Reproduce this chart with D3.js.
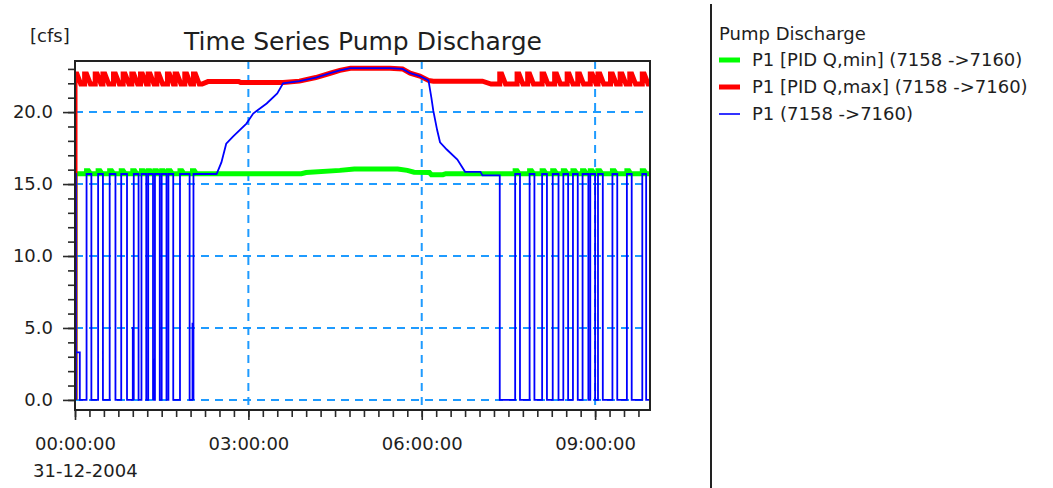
<!DOCTYPE html>
<html>
<head>
<meta charset="utf-8">
<script src="https://cdn.jsdelivr.net/npm/d3@7"></script>
<style>
  body { margin: 0; background: #fff; }
  text { font-family: "DejaVu Sans", sans-serif; fill: #1e1e1e; }
</style>
</head>
<body>
<div id="chart"></div>
<script>
// values
var day = "31-12-2004"
var xStart = "00:00", xEnd = "09:57"
var xTicks = ["00:00", "03:00", "06:00", "09:00"]
var yTicks = [0, 5, 10, 15, 20]
var seriesNames = ["P1 [PID Q,min] (7158 ->7160)", "P1 [PID Q,max] (7158 ->7160)", "P1 (7158 ->7160)"]

// P1 [PID Q,min]
var qMinBase = 15.72, qMinPeak = 15.92
var qMinStart = [["00:00",0],["00:00",15.72]]
var qMinTeethAM = ["00:12","00:24","00:36","00:48","01:00","01:09","01:16","01:23","01:30","01:37","01:49","02:02"]
var qMinProfile = [["02:10",15.72],["03:55",15.72],["04:00",15.8],["04:35",15.95],["04:50",16.05],["05:35",16.05],
  ["05:45",15.95],["05:52",15.82],["06:08",15.8],["06:10",15.65],["06:22",15.65],["06:25",15.72],["07:30",15.72]]
var qMinTeethPM = ["07:37","07:52","08:05","08:16","08:27","08:37","08:47","08:55","09:03","09:18","09:33","09:49"]

// P1 [PID Q,max]
var qMaxBase = 21.95, qMaxPeak = 22.65
var qMaxTeethAM = ["00:00","00:10","00:21","00:29","00:40","00:50","00:59","01:08","01:16","01:25","01:36","01:44","01:54","02:03"]
var qMaxProfile = [["02:12",21.95],["02:18",22.12],["02:50",22.12],["02:52",22.05],["03:36",22.05],["03:53",22.15],
  ["04:10",22.4],["04:25",22.7],["04:35",22.9],["04:46",23.05],["05:27",23.05],["05:40",23.0],["05:48",22.7],
  ["05:58",22.5],["06:07",22.2],["06:12",22.15],["07:03",22.15],["07:12",21.95]]
var qMaxTeethPM = ["07:21","07:39","07:50","08:05","08:18","08:31","08:42","08:55","09:03","09:16","09:26","09:36","09:49"]

// P1 discharge: on periods [from, to, level]
var p1Level = 15.7
var p1OnAM = [["00:00","00:01"],["00:01","00:05",3.3],["00:12","00:17"],["00:24","00:29"],["00:36","00:42"],
  ["00:48","00:54"],["01:00","01:01",5.0],["01:01","01:06"],["01:09","01:14"],["01:16","01:21"],["01:21","01:22",2.8],
  ["01:23","01:28"],["01:30","01:35"],["01:37","01:42"],["01:49","01:59"],["02:02","02:03",5.3]]
var p1Ramp = [["02:03",15.7],["02:27",15.7],["02:32",16.5],["02:37",17.8],["02:44",18.3],["02:58",19.2],["03:05",19.9],
  ["03:19",20.6],["03:30",21.3],["03:36",22.0],["03:53",22.15],["04:10",22.4],["04:25",22.7],["04:35",22.9],
  ["04:46",23.05],["05:27",23.05],["05:40",23.0],["05:48",22.7],["05:58",22.5],["06:07",22.2],["06:10",21.0],
  ["06:12",20.1],["06:16",18.75],["06:19",17.9],["06:26",17.4],["06:37",16.7],["06:45",15.85],["07:01",15.85],
  ["07:03",15.6],["07:21",15.6],["07:21",0]]
var p1OnPM = [["07:37","07:42"],["07:52","07:57"],["08:05","08:10"],["08:16","08:22"],["08:27","08:32"],["08:37","08:42"],
  ["08:47","08:53"],["08:55","09:00"],["09:03","09:08"],["09:18","09:23"],["09:33","09:38"],["09:49","09:53"]]

var width = 1053, height = 488
var parse = d3.timeParse("%d-%m-%Y %H:%M")
function t(s) { return parse(day + " " + s) }

function teeth(times, base, peak, hold, fall) {
  var pts = []
  times.forEach(function (s) {
    var d = t(s)
    pts.push([d, base], [d, peak], [d3.timeMinute.offset(d, hold), peak], [d3.timeMinute.offset(d, fall), base])
  })
  return pts
}
function pulses(list) {
  var pts = []
  list.forEach(function (p) {
    var lv = p.length > 2 ? p[2] : p1Level
    pts.push([t(p[0]), 0], [t(p[0]), lv], [t(p[1]), lv], [t(p[1]), 0])
  })
  return pts
}
function pairs(list) { return list.map(function (p) { return [t(p[0]), p[1]] }) }

var qMin = pairs(qMinStart).concat(teeth(qMinTeethAM, qMinBase, qMinPeak, 2, 4), pairs(qMinProfile),
  teeth(qMinTeethPM, qMinBase, qMinPeak, 2, 4), [[t(xEnd), qMinBase]])
var qMax = [[t("00:00"), 0]].concat(teeth(qMaxTeethAM, qMaxBase, qMaxPeak, 2, 6), pairs(qMaxProfile),
  teeth(qMaxTeethPM, qMaxBase, qMaxPeak, 2, 6), [[t(xEnd), qMaxBase]])
var p1 = pulses(p1OnAM).concat(pairs(p1Ramp), pulses(p1OnPM), [[t(xEnd), 0]])

var svg = d3.select("#chart").append("svg")
  .attr("width", width)
  .attr("height", height)

var x = d3.scaleTime().domain([t(xStart), t(xEnd)]).range([75, 650])
var y = d3.scaleLinear().domain([-0.7, 23.55]).range([410, 61])

// grid
var grid = svg.append("g").attr("stroke", "#1e9bff").attr("stroke-width", 2).attr("stroke-dasharray", "8,6")
grid.selectAll(".h").data(yTicks).enter().append("line")
  .attr("x1", 75).attr("x2", 650)
  .attr("y1", function (d) { return y(d) }).attr("y2", function (d) { return y(d) })
grid.selectAll(".v").data(xTicks.slice(1)).enter().append("line")
  .attr("x1", function (d) { return x(t(d)) }).attr("x2", function (d) { return x(t(d)) })
  .attr("y1", 61).attr("y2", 410)

// series
svg.append("clipPath").attr("id", "clip").append("rect")
  .attr("x", 75).attr("y", 61).attr("width", 575).attr("height", 349)
var line = d3.line().x(function (d) { return x(d[0]) }).y(function (d) { return y(d[1]) })
var plot = svg.append("g").attr("clip-path", "url(#clip)").attr("fill", "none")
plot.append("path").datum(qMin).attr("d", line).attr("stroke", "#00ff00").attr("stroke-width", 5)
plot.append("path").datum(qMax).attr("d", line).attr("stroke", "#ff0000").attr("stroke-width", 5)
plot.append("path").datum(p1).attr("d", line).attr("stroke", "#0000ff").attr("stroke-width", 1.8)

// axes
function style(g) {
  g.select(".domain").remove()
  g.selectAll("line").attr("stroke", "#2a2a2a").attr("stroke-width", 1.6)
  g.selectAll("text").attr("font-size", 18).attr("fill", "#1e1e1e")
}
svg.append("g").attr("transform", "translate(75,0)")
  .call(d3.axisLeft(y).tickValues(d3.range(0, 24)).tickSize(7).tickFormat(""))
  .call(style)
svg.append("g").attr("transform", "translate(75,0)")
  .call(d3.axisLeft(y).tickValues(yTicks).tickSize(12).tickPadding(10).tickFormat(d3.format(".1f")))
  .call(style)
svg.append("g").attr("transform", "translate(0,410)")
  .call(d3.axisBottom(x).tickValues(d3.timeMinute.every(15).range(t(xStart), t(xEnd))).tickSize(7).tickFormat(""))
  .call(style)
svg.append("g").attr("transform", "translate(0,410)")
  .call(d3.axisBottom(x).tickValues(xTicks.map(t)).tickSize(10).tickPadding(17).tickFormat(d3.timeFormat("%H:%M:%S")))
  .call(style)

svg.append("rect").attr("x", 75).attr("y", 61).attr("width", 575).attr("height", 349)
  .attr("fill", "none").attr("stroke", "#222").attr("stroke-width", 2)

svg.append("text").attr("x", 33).attr("y", 477).attr("font-size", 18).text(day)
svg.append("text").attr("x", 30).attr("y", 42).attr("font-size", 18).text("[cfs]")
svg.append("text").attr("x", 363).attr("y", 50).attr("text-anchor", "middle").attr("font-size", 25)
  .text("Time Series Pump Discharge")

// legend
svg.append("line").attr("x1", 711).attr("x2", 711).attr("y1", 4).attr("y2", 488)
  .attr("stroke", "#222").attr("stroke-width", 2)
var legend = svg.append("g").attr("transform", "translate(719,0)")
legend.append("text").attr("x", 0).attr("y", 40).attr("font-size", 18).text("Pump Discharge")
var legColors = ["#00ff00", "#ff0000", "#0000ff"], legWidths = [5, 5, 1.6]
var item = legend.selectAll(".item").data(seriesNames).enter().append("g")
  .attr("transform", function (d, i) { return "translate(0," + (66 + i * 27) + ")" })
item.append("line").attr("x1", 0).attr("x2", 21).attr("y1", -6).attr("y2", -6)
  .attr("stroke", function (d, i) { return legColors[i] })
  .attr("stroke-width", function (d, i) { return legWidths[i] })
item.append("text").attr("x", 33).attr("font-size", 18).text(function (d) { return d })
</script>
</body>
</html>
